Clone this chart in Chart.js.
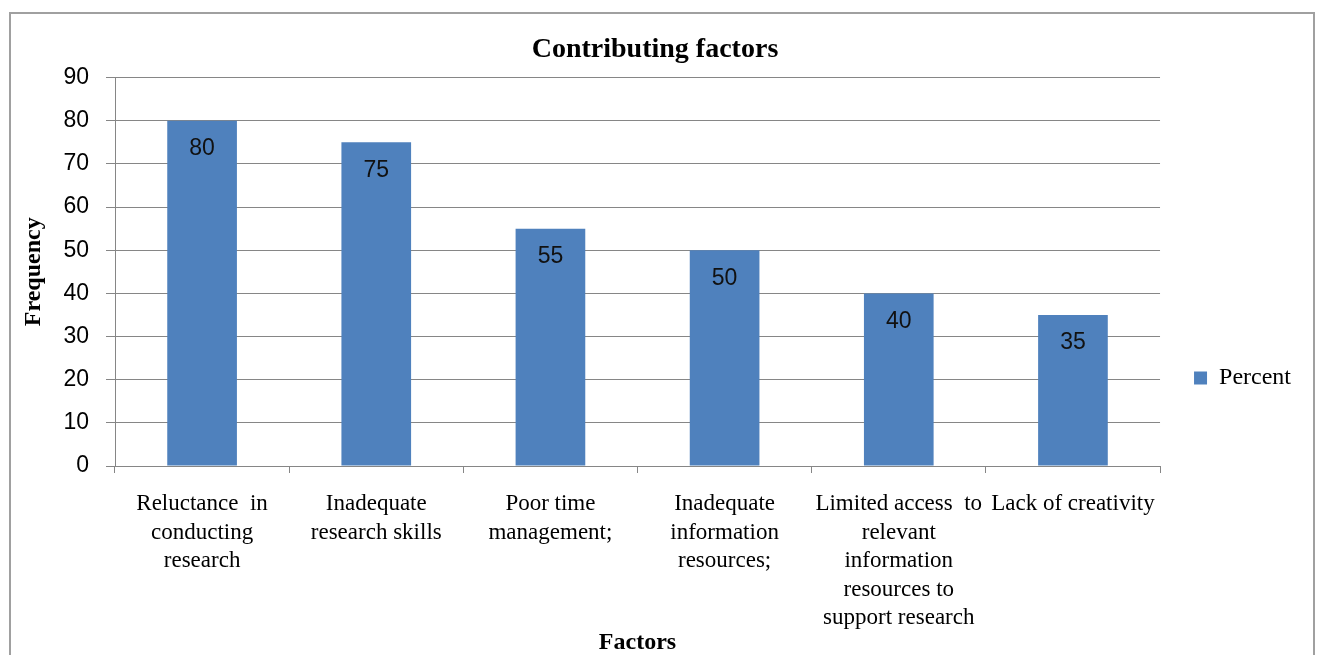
<!DOCTYPE html>
<html>
<head>
<meta charset="utf-8">
<script src="https://cdn.jsdelivr.net/npm/chart.js@4/dist/chart.umd.min.js"></script>
<style>
  html, body { margin: 0; padding: 0; width: 1318px; height: 655px; overflow: hidden; background: #fff; }
  #frame { position: absolute; left: 9px; top: 12px; width: 1302px; height: 740px; border: 2px solid #a0a0a0; box-sizing: content-box; }
  #wrap { position: absolute; left: 0; top: 0; width: 1318px; height: 756px; }
</style>
</head>
<body>
<div id="frame"></div>
<div id="wrap"><canvas id="c" width="1318" height="756"></canvas></div>
<script>
const categories = [
  ["Reluctance  in", "conducting", "research"],
  ["Inadequate", "research skills"],
  ["Poor time", "management;"],
  ["Inadequate", "information", "resources;"],
  ["Limited access  to", "relevant", "information", "resources to", "support research"],
  ["Lack of creativity"]
];
const percentValues = [80, 75, 55, 50, 40, 35];
const seriesName = "Percent";
const chartTitle = "Contributing factors";
const xAxisTitle = "Factors";
const yAxisTitle = "Frequency";
const yMin = 0, yMax = 90, yStep = 10;

const SERIF = "'Liberation Serif', 'Times New Roman', serif";
const NARROW = "'Liberation Sans Narrow', 'Liberation Sans', Arial, sans-serif";

const valueLabels = {
  id: 'valueLabels',
  afterDatasetsDraw(chart) {
    const ctx = chart.ctx;
    const meta = chart.getDatasetMeta(0);
    ctx.save();
    ctx.font = "23px " + NARROW;
    ctx.fillStyle = "#111";
    ctx.textAlign = "center";
    ctx.textBaseline = "middle";
    meta.data.forEach((bar, i) => {
      ctx.fillText(String(chart.data.datasets[0].data[i]), bar.x, bar.y + 28);
    });
    ctx.restore();
  }
};

new Chart(document.getElementById('c'), {
  type: 'bar',
  data: {
    labels: categories,
    datasets: [{
      label: seriesName,
      data: percentValues,
      backgroundColor: '#4F81BD',
      borderWidth: 0,
      barPercentage: 0.4,
      categoryPercentage: 1.0
    }]
  },
  options: {
    responsive: false,
    animation: false,
    devicePixelRatio: 1,
    layout: { padding: { left: 9, top: 0, right: 17, bottom: 0 } },
    plugins: {
      title: {
        display: true,
        text: chartTitle,
        color: '#000',
        font: { family: SERIF, size: 28, weight: 'bold', lineHeight: 1.2 },
        padding: { top: 33, bottom: 11 }
      },
      legend: {
        display: true,
        position: 'right',
        align: 'center',
        labels: {
          boxWidth: 13,
          boxHeight: 13,
          padding: 34,
          color: '#000',
          font: { family: SERIF, size: 24, lineHeight: 1.2 }
        }
      },
      tooltip: { enabled: false }
    },
    scales: {
      x: {
        offset: true,
        grid: {
          offset: true,
          drawOnChartArea: false,
          drawTicks: true,
          tickLength: 7,
          color: '#868686'
        },
        border: { display: true, color: '#868686', width: 1 },
        ticks: {
          color: '#000',
          font: { family: SERIF, size: 23, lineHeight: 1.24 },
          padding: 17,
          maxRotation: 0,
          minRotation: 0,
          autoSkip: false
        },
        title: {
          display: true,
          text: xAxisTitle,
          color: '#000',
          font: { family: SERIF, size: 24, weight: 'bold', lineHeight: 1.2 },
          padding: { top: 0, bottom: 99 }
        },
        afterFit(scale) { scale.height = 290; }
      },
      y: {
        min: yMin,
        max: yMax,
        ticks: {
          stepSize: yStep,
          color: '#000',
          font: { family: NARROW, size: 23 },
          padding: 17
        },
        grid: {
          color: '#868686',
          tickLength: 9,
          drawTicks: true
        },
        border: { display: true, color: '#868686', width: 1 },
        title: {
          display: true,
          text: yAxisTitle,
          color: '#000',
          font: { family: SERIF, size: 24, weight: 'bold', lineHeight: 1.2 },
          padding: { top: 10, bottom: 0 }
        },
        afterFit(scale) { scale.width = 106; }
      }
    }
  },
  plugins: [valueLabels]
});
</script>
</body>
</html>
